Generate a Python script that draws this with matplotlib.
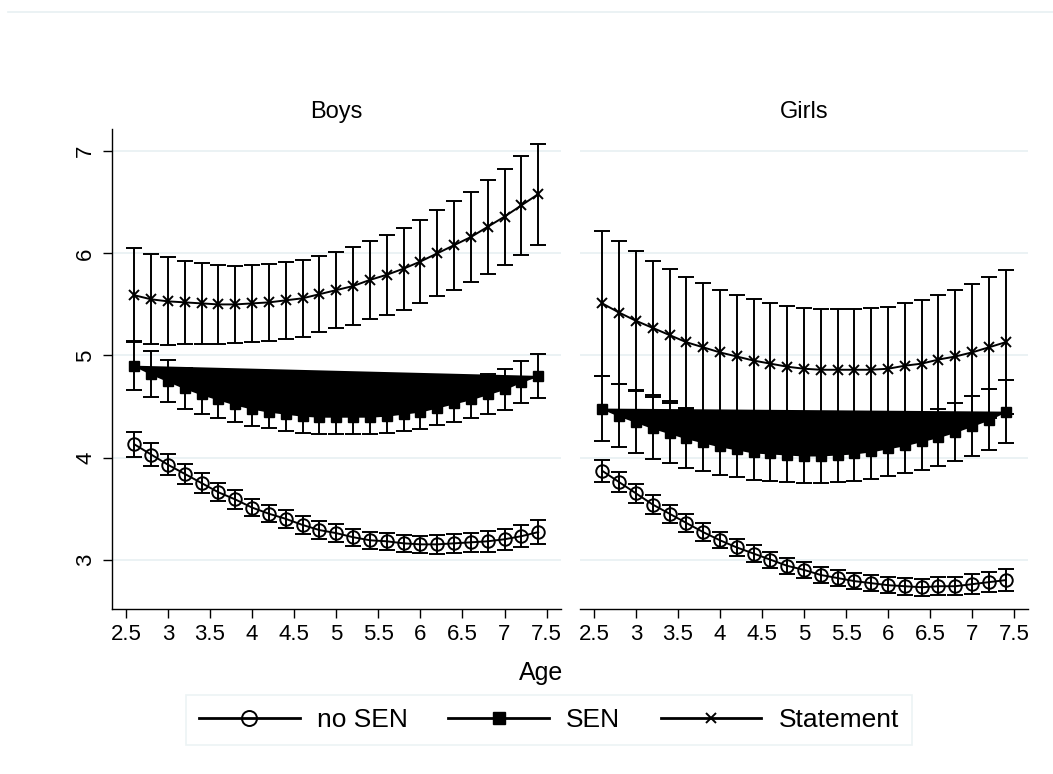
import matplotlib.pyplot as plt
from matplotlib.lines import Line2D

plt.rcParams['font.family'] = ['Liberation Sans', 'DejaVu Sans']

# ages at which predictions were made
ages = [2.6, 2.8, 3.0, 3.2, 3.4, 3.6, 3.8, 4.0, 4.2, 4.4, 4.6, 4.8, 5.0,
        5.2, 5.4, 5.6, 5.8, 6.0, 6.2, 6.4, 6.6, 6.8, 7.0, 7.2, 7.4]

# --- Boys ---
boys_nosen = [4.13, 4.03, 3.93, 3.84, 3.75, 3.66, 3.59, 3.51, 3.45, 3.40, 3.34, 3.29, 3.26,
              3.22, 3.19, 3.18, 3.16, 3.15, 3.15, 3.16, 3.17, 3.18, 3.20, 3.23, 3.27]
boys_nosen_ci = [0.125, 0.115, 0.105, 0.10, 0.095, 0.09, 0.09, 0.085, 0.085, 0.085, 0.085, 0.085, 0.085,
                 0.085, 0.085, 0.085, 0.085, 0.085, 0.09, 0.09, 0.095, 0.10, 0.105, 0.11, 0.115]
boys_sen = [4.90, 4.82, 4.75, 4.68, 4.62, 4.57, 4.52, 4.48, 4.45, 4.43, 4.41, 4.40, 4.40,
            4.40, 4.40, 4.41, 4.43, 4.45, 4.49, 4.53, 4.57, 4.62, 4.67, 4.74, 4.80]
boys_sen_ci = [0.24, 0.225, 0.21, 0.20, 0.19, 0.18, 0.175, 0.17, 0.165, 0.165, 0.165, 0.165, 0.165,
               0.165, 0.165, 0.165, 0.17, 0.17, 0.175, 0.18, 0.185, 0.195, 0.20, 0.21, 0.215]
boys_stat = [5.59, 5.55, 5.53, 5.52, 5.51, 5.50, 5.50, 5.51, 5.52, 5.54, 5.56, 5.60, 5.64,
             5.68, 5.74, 5.79, 5.85, 5.92, 6.00, 6.08, 6.16, 6.26, 6.36, 6.47, 6.58]
boys_stat_ci = [0.46, 0.44, 0.43, 0.41, 0.40, 0.39, 0.38, 0.38, 0.375, 0.375, 0.375, 0.375, 0.375,
                0.38, 0.385, 0.39, 0.40, 0.41, 0.42, 0.435, 0.445, 0.46, 0.47, 0.485, 0.495]

# --- Girls ---
girls_nosen = [3.87, 3.76, 3.65, 3.54, 3.45, 3.36, 3.27, 3.19, 3.12, 3.06, 3.00, 2.94, 2.90,
               2.85, 2.82, 2.79, 2.77, 2.75, 2.74, 2.73, 2.74, 2.74, 2.76, 2.78, 2.80]
girls_nosen_ci = [0.105, 0.10, 0.095, 0.09, 0.09, 0.085, 0.085, 0.08, 0.08, 0.08, 0.08, 0.08, 0.08,
                  0.08, 0.08, 0.08, 0.08, 0.08, 0.085, 0.085, 0.09, 0.09, 0.095, 0.10, 0.105]
girls_sen = [4.48, 4.41, 4.35, 4.29, 4.24, 4.19, 4.15, 4.11, 4.08, 4.05, 4.04, 4.03, 4.02,
             4.02, 4.03, 4.04, 4.06, 4.09, 4.12, 4.16, 4.20, 4.25, 4.31, 4.37, 4.45]
girls_sen_ci = [0.32, 0.31, 0.305, 0.30, 0.295, 0.29, 0.285, 0.28, 0.275, 0.27, 0.27, 0.27, 0.27,
                0.27, 0.27, 0.27, 0.27, 0.275, 0.275, 0.28, 0.28, 0.285, 0.29, 0.30, 0.31]
girls_stat = [5.51, 5.42, 5.34, 5.27, 5.20, 5.13, 5.08, 5.03, 4.99, 4.95, 4.92, 4.89, 4.87,
              4.86, 4.86, 4.86, 4.86, 4.87, 4.90, 4.92, 4.96, 4.99, 5.03, 5.08, 5.13]
girls_stat_ci = [0.71, 0.70, 0.68, 0.66, 0.65, 0.64, 0.625, 0.615, 0.605, 0.60, 0.59, 0.59, 0.595,
                 0.595, 0.595, 0.595, 0.60, 0.60, 0.61, 0.625, 0.63, 0.65, 0.67, 0.69, 0.705]

panel_titles = ["Boys", "Girls"]
series_labels = ["no SEN", "SEN", "Statement"]
xticks = [2.5, 3, 3.5, 4, 4.5, 5, 5.5, 6, 6.5, 7, 7.5]
xticklabels = ["2.5", "3", "3.5", "4", "4.5", "5", "5.5", "6", "6.5", "7", "7.5"]
yticks = [3, 4, 5, 6, 7]

W, H = 1053, 774
fig = plt.figure(figsize=(W / 100, H / 100), dpi=100)
fig.patch.set_facecolor("white")

GRID = "#e8f0f2"
LW = 1.4
ax_b = fig.add_axes([112 / W, 1 - 609.3 / H, 448.5 / W, (609.3 - 129) / H])
ax_g = fig.add_axes([580 / W, 1 - 609.3 / H, 448 / W, (609.3 - 129) / H])

panels = [
    (ax_b, boys_nosen, boys_nosen_ci, boys_sen, boys_sen_ci, boys_stat, boys_stat_ci),
    (ax_g, girls_nosen, girls_nosen_ci, girls_sen, girls_sen_ci, girls_stat, girls_stat_ci),
]

handles = []
for i, (ax, ns, ns_ci, sen, sen_ci, st, st_ci) in enumerate(panels):
    # SEN curve drawn as a closed filled shape (as in the original)
    ax.fill(ages, sen, color="black", lw=0, zorder=2)

    eb = dict(fmt="none", ecolor="black", elinewidth=LW, capsize=6, capthick=LW, zorder=3)
    ax.errorbar(ages, ns, yerr=ns_ci, **eb)
    ax.errorbar(ages, sen, yerr=sen_ci, **eb)
    ax.errorbar(ages, st, yerr=st_ci, **eb)

    h1, = ax.plot(ages, ns, "-", color="black", lw=LW, marker="o", ms=9,
                  mfc="none", mec="black", mew=LW, zorder=4)
    h2, = ax.plot(ages, sen, "-", color="black", lw=LW, marker="s", ms=7.5,
                  mfc="black", mec="black", zorder=4)
    h3, = ax.plot(ages, st, "-", color="black", lw=LW, marker="x", ms=6.5,
                  mec="black", mew=LW, zorder=4)
    if i == 0:
        handles = [h1, h2, h3]

    ax.set_xlim(2.335, 7.665)
    ax.set_ylim(2.514, 7.218)
    ax.set_xticks(xticks)
    ax.set_xticklabels(xticklabels, fontsize=16)
    ax.set_yticks(yticks)
    ax.grid(axis="y", color=GRID, lw=1.2)
    ax.set_axisbelow(True)
    for side in ["top", "right"]:
        ax.spines[side].set_visible(False)
    ax.spines["bottom"].set_linewidth(1.0)
    ax.spines["left"].set_linewidth(1.0)
    ax.tick_params(axis="x", length=6.5, width=1.0, pad=4)
    ax.tick_params(axis="y", length=6.5, width=1.0, pad=5, labelsize=16, labelrotation=90)
    for lab in ax.get_yticklabels():
        lab.set_va("center")

    fig.text((ax.get_position().x0 + ax.get_position().x1) / 2, 1 - 112 / H,
             panel_titles[i], ha="center", va="center", fontsize=17)

# Girls panel: no y axis
ax_g.spines["left"].set_visible(False)
ax_g.tick_params(axis="y", left=False, labelleft=False)

fig.text(541 / W, 1 - 673 / H, "Age", ha="center", va="center", fontsize=18)

leg = fig.legend(handles, series_labels, loc="center", ncol=3,
                 bbox_to_anchor=(549 / W, 1 - 720 / H), fontsize=19,
                 handlelength=3.8, handletextpad=0.65, columnspacing=1.55,
                 borderpad=0.5, numpoints=1, markerscale=1.2,
                 fancybox=False, frameon=True)
leg.get_frame().set_edgecolor(GRID)
leg.get_frame().set_linewidth(1.2)
for lh in leg.legend_handles:
    lh.set_linewidth(2.0)

# faint outer border line at the top of the graph region
fig.add_artist(Line2D([8 / W, 1], [1 - 12 / H, 1 - 12 / H], color=GRID, lw=1.2))

fig.savefig("out.png", dpi=100)
